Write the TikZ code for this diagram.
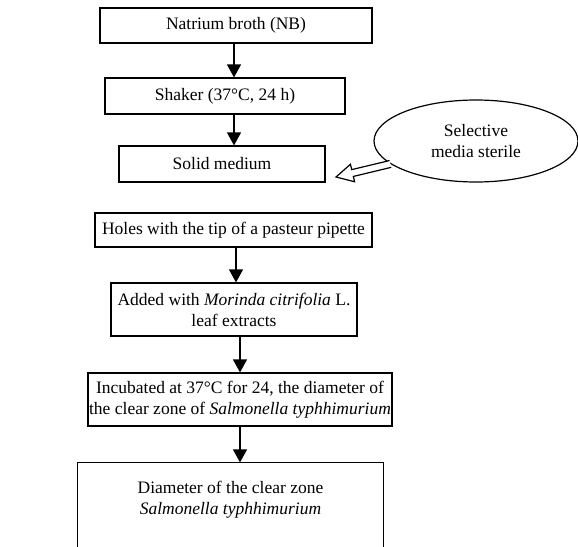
\documentclass[tikz,border=0pt]{standalone}
\usepackage{fontspec}
\setmainfont{Liberation Serif}
\usetikzlibrary{arrows.meta,shapes.geometric,calc}

\begin{document}
\begin{tikzpicture}[x=1pt, y=-1pt, line width=1.2pt,
    box/.style={draw, rectangle, inner sep=0pt, align=center, font=\fontsize{17.5}{21}\selectfont},
    flow/.style={-{Triangle[length=13pt,width=14pt]}}]
    % Frame
    \clip (0,0) rectangle (578,546);
    % Boxes
    \node[box, minimum width=272pt, minimum height=35pt] (nb) at (236,25.5) {Natrium broth (NB)};
    \node[box, minimum width=240pt, minimum height=36pt] (shk) at (225,96) {Shaker (37°C, 24 h)};
    \node[box, minimum width=206pt, minimum height=36pt] (solid) at (222,164) {Solid medium};
    \node[box, minimum width=277pt, minimum height=34pt] (holes) at (233.5,230) {Holes with the tip of a pasteur pipette};
    \node[box, minimum width=246pt, minimum height=53pt] (added) at (234,309.5) {Added with \textit{Morinda citrifolia} L.\\leaf extracts};
    \node[box, minimum width=304pt, minimum height=53pt] (incub) at (240,399.5) {Incubated at 37°C for 24, the diameter of\\the clear zone of \textit{Salmonella typhhimurium}};
    \node[box, draw=none, minimum width=305pt, minimum height=74pt] (diam) at (230.5,500) {Diameter of the clear zone\\\textit{Salmonella typhhimurium}};
    \draw ([yshift=-30pt]diam.south west) -- (diam.north west) -- (diam.north east) -- ([yshift=-30pt]diam.south east);
    % Ellipse
    \node[box, ellipse, minimum width=204pt, minimum height=82pt] (sel) at (476,141) {Selective\\media sterile};
    % Hollow arrow
    \coordinate (tip) at (336,177);
    \coordinate (tail) at (sel.195);
    \draw[fill=white, line join=miter] ($(tail)!3.5pt!-90:(tip)$) -- ($(tip)!17pt!(tail)!3.5pt!90:(tail)$)
        -- ($(tip)!17pt!(tail)!9pt!90:(tail)$) -- (tip) -- ($(tip)!17pt!(tail)!9pt!-90:(tail)$)
        -- ($(tip)!17pt!(tail)!3.5pt!-90:(tail)$) -- ($(tail)!3.5pt!90:(tip)$);
    % Arrows
    \draw[flow] (nb.south -| 234,0) -- (shk.north -| 234,0);
    \draw[flow] (shk.south -| 234,0) -- (solid.north -| 234,0);
    \draw[flow] (holes.south -| 236,0) -- (added.north -| 236,0);
    \draw[flow] (added.south -| 240,0) -- (incub.north -| 240,0);
    \draw[flow] (incub.south -| 240,0) -- (diam.north -| 240,0);
\end{tikzpicture}
\end{document}
